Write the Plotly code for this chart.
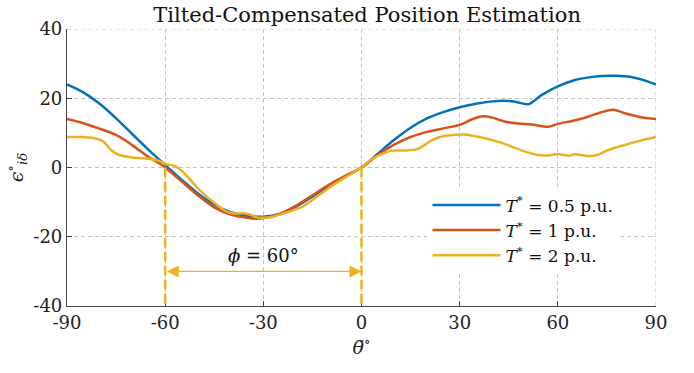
import plotly.graph_objects as go

# ---- data ----
theta_blue = [-90, -85, -80, -75, -70, -65, -60, -55, -50, -45, -40, -35, -30, -25, -20, -15, -10, -5,
              0, 5, 10, 15, 20, 25, 30, 35, 40, 43, 47, 51, 55, 60, 65, 70, 75, 78, 82, 86, 90]
err_blue = [24.0, 21.7, 18.4, 14.2, 9.6, 5.0, 0.7, -3.5, -7.5, -10.7, -12.9, -14.0, -14.2, -13.4, -11.3, -8.4, -5.4, -2.6,
            0.0, 4.0, 8.0, 11.5, 14.2, 16.0, 17.4, 18.4, 19.1, 19.3, 19.0, 18.3, 20.9, 23.4, 25.2, 26.1, 26.5, 26.5, 26.2, 25.3, 24.0]

theta_red = [-90, -85, -80, -75, -70, -65, -62, -60, -55, -50, -45, -40, -35, -32, -30, -25, -20, -15, -10, -5,
             0, 5, 10, 15, 20, 25, 30, 34, 37, 40, 44, 48, 52, 57, 60, 65, 69, 73, 77, 80, 85, 90]
err_red = [14.0, 12.8, 11.2, 9.4, 6.4, 3.0, 1.3, 0.0, -4.0, -8.0, -11.5, -13.6, -14.5, -14.8, -14.6, -13.4, -11.0, -8.0, -5.0, -2.4,
           0.0, 3.6, 6.6, 8.8, 10.3, 11.3, 12.3, 14.0, 14.8, 14.4, 13.2, 12.7, 12.4, 11.8, 12.6, 13.6, 14.6, 15.9, 16.7, 15.8, 14.6, 14.0]

theta_yellow = [-90, -86, -82, -79, -76.5, -74, -70, -65, -62, -60, -57, -54, -50, -45, -41, -38, -36, -34, -32, -30,
                -27, -24, -21, -18, -15, -10, -5, 0, 3, 6, 9, 13, 17, 19, 21, 24, 27, 31, 34, 38, 42, 46, 50, 54,
                57, 60, 62, 63.5, 65, 68, 70, 72, 75, 80, 85, 90]
err_yellow = [8.8, 8.8, 8.5, 7.6, 5.0, 3.6, 2.9, 2.5, 2.0, 1.0, 0.4, -1.8, -6.0, -10.2, -12.8, -13.3, -13.2, -13.6, -14.4, -14.5,
              -14.2, -13.3, -12.4, -11.3, -9.4, -5.9, -2.9, 0.0, 2.4, 3.8, 4.8, 4.9, 5.3, 6.3, 7.6, 8.8, 9.3, 9.5, 9.2, 8.4, 7.4, 6.0, 4.6, 3.6,
              3.5, 3.9, 3.6, 3.4, 3.8, 3.5, 3.3, 3.6, 4.9, 6.4, 7.7, 8.8]

series_names = ["<i>T</i><sup>*</sup> = 0.5 p.u.", "<i>T</i><sup>*</sup> = 1 p.u.", "<i>T</i><sup>*</sup> = 2 p.u."]
series_colors = ["#0072BD", "#D95319", "#EDB120"]

x_ticks = [-90, -60, -30, 0, 30, 60, 90]
x_tick_labels = ["-90", "-60", "-30", "0", "30", "60", "90"]
y_ticks = [-40, -20, 0, 20, 40]
y_tick_labels = ["-40", "-20", "0", "20", "40"]

x_range = [-90, 90]
y_range = [-40, 40]
phi_bounds = [-60, 0]     # vertical dashed markers
arrow_level = -30
phi_label = "<i>ϕ</i> = 60°"

FONT = "DejaVu Serif"
GRID = "#c4c4c4"

fig = go.Figure()
for xs, ys, name, col in zip([theta_blue, theta_red, theta_yellow],
                             [err_blue, err_red, err_yellow],
                             series_names, series_colors):
    fig.add_trace(go.Scatter(x=xs, y=ys, mode="lines", name=name,
                             line=dict(color=col, width=2.5, shape="spline", smoothing=0.9)))

# grid lines at the top and right edges (box side)
fig.add_shape(type="line", x0=x_range[1], x1=x_range[1], y0=y_range[0], y1=y_range[1], xref="x", yref="y",
              line=dict(color=GRID, width=1, dash="4px,3px"), layer="below")
fig.add_shape(type="line", x0=x_range[0], x1=x_range[1], y0=y_range[1], y1=y_range[1], xref="x", yref="y",
              line=dict(color=GRID, width=1, dash="4px,3px"), layer="below")

# vertical dashed lines at the phi bounds
for xb in phi_bounds:
    fig.add_shape(type="line", x0=xb, x1=xb, y0=0, y1=y_range[0], xref="x", yref="y",
                  line=dict(color="#EDB120", width=2.5, dash="10px,4px"))

# double-headed arrow
fig.add_annotation(x=phi_bounds[1], y=arrow_level, ax=phi_bounds[0], ay=arrow_level,
                   xref="x", yref="y", axref="x", ayref="y", text="",
                   showarrow=True, arrowhead=2, startarrowhead=2, arrowside="end+start",
                   arrowsize=2.0, startarrowsize=2.0, arrowwidth=1.2, arrowcolor="#EDB120")
fig.add_annotation(x=(phi_bounds[0] + phi_bounds[1]) / 2, y=arrow_level, xref="x", yref="y",
                   text=phi_label, showarrow=False, yanchor="bottom", yshift=3,
                   font=dict(family=FONT, size=18, color="#111"))

axis_common = dict(showline=True, linecolor="#444", linewidth=1.2, ticks="inside", ticklen=5,
                   tickcolor="#444", showgrid=True, gridcolor=GRID, griddash="4px,3px",
                   gridwidth=1, zeroline=False, mirror=False,
                   tickfont=dict(family=FONT, size=18, color="#222"))

fig.update_layout(
    width=694, height=373,
    margin=dict(l=67, r=38, t=29, b=67),
    plot_bgcolor="white", paper_bgcolor="white",
    title=dict(text="Tilted-Compensated Position Estimation", x=0.529, xanchor="center",
               y=0.962, yanchor="middle", font=dict(family=FONT, size=21, color="#111")),
    xaxis=dict(range=x_range, tickvals=x_ticks, ticktext=x_tick_labels,
               title=dict(text="<i>θ̃</i><sup>∘</sup>", font=dict(family=FONT, size=19, color="#222"), standoff=8),
               **axis_common),
    yaxis=dict(range=y_range, tickvals=y_ticks, ticktext=y_tick_labels,
               title=dict(text="<i>ϵ</i><sup>∘</sup><sub><i>iδ</i></sub>", font=dict(family=FONT, size=19, color="#222"), standoff=4),
               **axis_common),
    legend=dict(x=0.612, y=0.428, xanchor="left", yanchor="top", bgcolor="white",
                borderwidth=0, font=dict(family=FONT, size=17, color="#111"),
                tracegroupgap=0, itemwidth=68),
    showlegend=True,
)

fig.write_html("out.html")
